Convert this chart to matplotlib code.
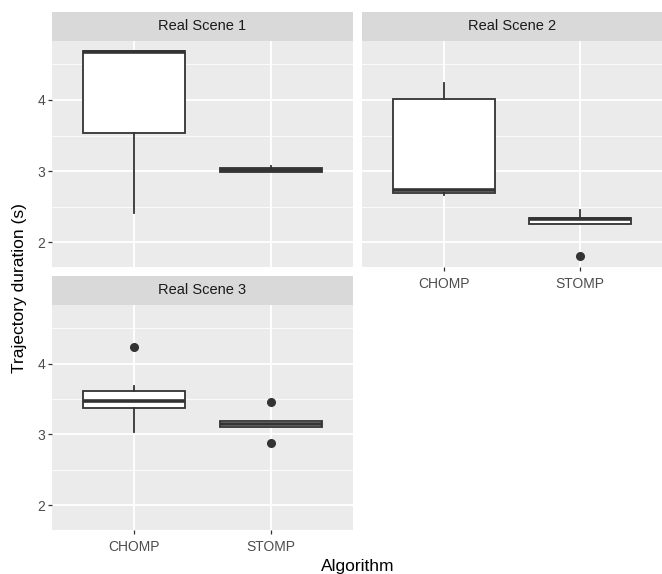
import matplotlib
matplotlib.use("Agg")
import matplotlib.pyplot as plt

plt.rcParams['font.family'] = ['Liberation Sans', 'DejaVu Sans']

# box statistics (per scene: CHOMP, STOMP)
algorithms = ["CHOMP", "STOMP"]
scenes = ["Real Scene 1", "Real Scene 2", "Real Scene 3"]
q1 = [[3.54, 2.99], [2.695, 2.25], [3.38, 3.11]]
med = [[4.68, 3.02], [2.73, 2.33], [3.47, 3.15]]
q3 = [[4.69, 3.04], [4.02, 2.34], [3.61, 3.185]]
whislo = [[2.41, 2.99], [2.66, 2.25], [3.04, 3.11]]
whishi = [[4.69, 3.07], [4.24, 2.45], [3.68, 3.185]]
fliers = [[[], []], [[], [1.81]], [[4.24], [3.46, 2.88]]]

W, H = 662, 574
fig = plt.figure(figsize=(W / 100, H / 100), dpi=100)

def rect(x0, y0, x1, y1):
    return [x0 / W, 1 - y1 / H, (x1 - x0) / W, (y1 - y0) / H]

# (panel box, strip box, show y labels, show x labels)
layout = [
    ((52, 41, 353, 267), (52, 12, 353, 41), True, False),
    ((362, 41, 662, 267), (362, 12, 662, 41), False, True),
    ((52, 305, 353, 530), (52, 276, 353, 305), True, True),
]

dark = "#333333"
for i, (pbox, sbox, ylab, xlab) in enumerate(layout):
    ax = fig.add_axes(rect(*pbox))
    ax.set_facecolor("#EBEBEB")
    stats = []
    for j in range(2):
        stats.append(dict(med=med[i][j], q1=q1[i][j], q3=q3[i][j],
                          whislo=whislo[i][j], whishi=whishi[i][j],
                          fliers=fliers[i][j]))
    ax.bxp(stats, positions=[1, 2], widths=0.75, patch_artist=True,
           boxprops=dict(facecolor="white", edgecolor=dark, linewidth=1.3),
           medianprops=dict(color=dark, linewidth=2.6),
           whiskerprops=dict(color=dark, linewidth=1.3),
           capprops=dict(linewidth=0),
           flierprops=dict(marker="o", markerfacecolor=dark, markeredgecolor=dark,
                           markersize=5.5),
           zorder=3)
    ax.set_xlim(0.4, 2.6)
    ax.set_ylim(1.65, 4.83)
    ax.set_xticks([1, 2])
    ax.set_yticks([2, 3, 4])
    ax.set_yticks([2.5, 3.5, 4.5], minor=True)
    ax.grid(which="major", color="white", linewidth=1.3, zorder=0)
    ax.grid(which="minor", axis="y", color="white", linewidth=0.6, zorder=0)
    ax.set_axisbelow(True)
    for s in ax.spines.values():
        s.set_visible(False)
    ax.tick_params(which="major", length=3, width=0.9, color=dark,
                   labelsize=10, labelcolor="#4D4D4D", pad=2)
    ax.tick_params(axis="x", pad=4)
    ax.tick_params(which="minor", length=0)
    if xlab:
        ax.set_xticklabels(algorithms)
    else:
        ax.set_xticklabels([])
        ax.tick_params(axis="x", length=0)
    if ylab:
        ax.set_yticklabels(["2", "3", "4"])
    else:
        ax.set_yticklabels([])
        ax.tick_params(axis="y", length=0)

    sax = fig.add_axes(rect(*sbox))
    sax.set_facecolor("#D9D9D9")
    sax.set_xticks([])
    sax.set_yticks([])
    for s in sax.spines.values():
        s.set_visible(False)
    sax.text(0.5, 0.5, scenes[i], ha="center", va="center", fontsize=10.5,
             color="#1A1A1A", transform=sax.transAxes)

fig.text(20 / W, 1 - 288 / H, "Trajectory duration (s)", rotation=90,
         ha="center", va="center", fontsize=12.5)
fig.text(358 / W, 1 - 566 / H, "Algorithm", ha="center", va="center", fontsize=12.5)

fig.savefig("out.png", dpi=100)
